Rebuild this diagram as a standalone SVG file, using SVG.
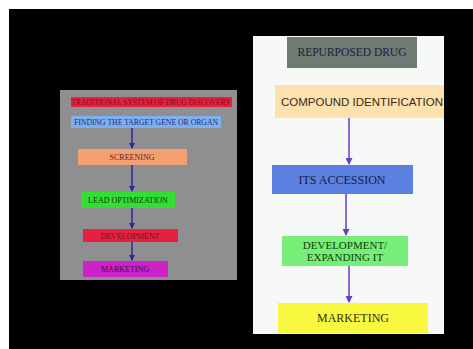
<svg xmlns="http://www.w3.org/2000/svg" width="473" height="349" viewBox="0 0 473 349">
<style>
.s{font-family:"Liberation Serif",serif;text-anchor:middle}
.a{font-family:"Liberation Sans",sans-serif;text-anchor:middle}
.ln{stroke:#2a2a9a;stroke-width:1.5;fill:none}
.rl{stroke:#6a3acc;stroke-width:1.5;fill:none}
</style>
<defs>
<marker id="ah" markerWidth="6" markerHeight="6" refX="5" refY="3" orient="auto" markerUnits="userSpaceOnUse"><path d="M0,0 L6,3 L0,6 z" fill="#2a2a9a"/></marker>
<marker id="ahr" markerWidth="7" markerHeight="7" refX="6" refY="3.5" orient="auto" markerUnits="userSpaceOnUse"><path d="M0,0 L7,3.5 L0,7 z" fill="#6a3acc"/></marker>
<clipPath id="cl"><rect x="60" y="90" width="177" height="190"/></clipPath>
<clipPath id="cr"><rect x="253" y="36" width="191" height="298"/></clipPath>
</defs>
<rect width="473" height="349" fill="#ffffff"/>
<rect x="9" y="9" width="464" height="340" fill="#000000"/>
<rect x="60" y="90" width="177" height="190" fill="#8f8f91"/>
<rect x="253" y="36" width="191" height="298" fill="#f7f9f7"/>
<g id="connectors">
<line class="ln" x1="132" y1="128" x2="132" y2="148" marker-end="url(#ah)"/>
<line class="ln" x1="132" y1="165" x2="132" y2="191" marker-end="url(#ah)"/>
<line class="ln" x1="132" y1="208" x2="132" y2="228" marker-end="url(#ah)"/>
<line class="ln" x1="132" y1="242" x2="132" y2="260" marker-end="url(#ah)"/>
<line class="rl" x1="349" y1="118" x2="349" y2="164" marker-end="url(#ahr)"/>
<line class="rl" x1="346" y1="194" x2="346" y2="235" marker-end="url(#ahr)"/>
<line class="rl" x1="349" y1="266" x2="349" y2="302" marker-end="url(#ahr)"/>
</g>
<g id="n-title" clip-path="url(#cl)">
<rect x="71" y="97" width="161" height="10" fill="#e4213e"/>
<text class="s" x="151" y="105" font-size="8" fill="#7a1020" textLength="159" lengthAdjust="spacingAndGlyphs">TRADITIONAL SYSTEM OF DRUG DISCOVERY</text>
</g>
<g id="n-finding">
<rect x="71" y="116" width="150" height="12" fill="#7fb0ee"/>
<text class="s" x="146" y="125" font-size="8" fill="#1a2a8a" textLength="144" lengthAdjust="spacingAndGlyphs">FINDING THE TARGET GENE OR ORGAN</text>
</g>
<g id="n-screening">
<rect x="78" y="149" width="109" height="16" fill="#f2a072"/>
<text class="s" x="132" y="160" font-size="8" fill="#6a2020">SCREENING</text>
</g>
<g id="n-lead">
<rect x="81" y="192" width="94" height="16" fill="#33dd33"/>
<text class="s" x="128" y="203" font-size="8" fill="#103a10">LEAD OPTIMIZATION</text>
</g>
<g id="n-dev">
<rect x="83" y="229" width="95" height="13" fill="#e4213e"/>
<text class="s" x="130" y="238.5" font-size="8" fill="#7a1020">DEVELOPMENT</text>
</g>
<g id="n-mkt">
<rect x="83" y="261" width="85" height="16" fill="#cc22c8"/>
<text class="s" x="125" y="272" font-size="8" fill="#4a0a4a">MARKETING</text>
</g>
<g id="n-repurposed">
<rect x="287" y="37" width="130" height="31" fill="#6e7a72"/>
<text class="s" x="352" y="56" font-size="11.5" fill="#1a2240">REPURPOSED DRUG</text>
</g>
<g id="n-compound" clip-path="url(#cr)">
<rect x="275" y="85" width="175" height="33" fill="#fde2b0"/>
<text class="a" x="362" y="106" font-size="11.5" fill="#3a2a10">COMPOUND IDENTIFICATION</text>
</g>
<g id="n-accession">
<rect x="272" y="165" width="141" height="29" fill="#5b80e0"/>
<text class="s" x="342" y="184" font-size="12" fill="#10204a">ITS ACCESSION</text>
</g>
<g id="n-expand">
<rect x="282" y="236" width="126" height="30" fill="#77ee77"/>
<text class="s" x="345" y="248.5" font-size="11" fill="#104010">DEVELOPMENT/</text>
<text class="s" x="345" y="261" font-size="11" fill="#104010">EXPANDING IT</text>
</g>
<g id="n-mkt2">
<rect x="278" y="303" width="150" height="30" fill="#f8f840"/>
<text class="s" x="353" y="322" font-size="12" fill="#303010">MARKETING</text>
</g>
</svg>
